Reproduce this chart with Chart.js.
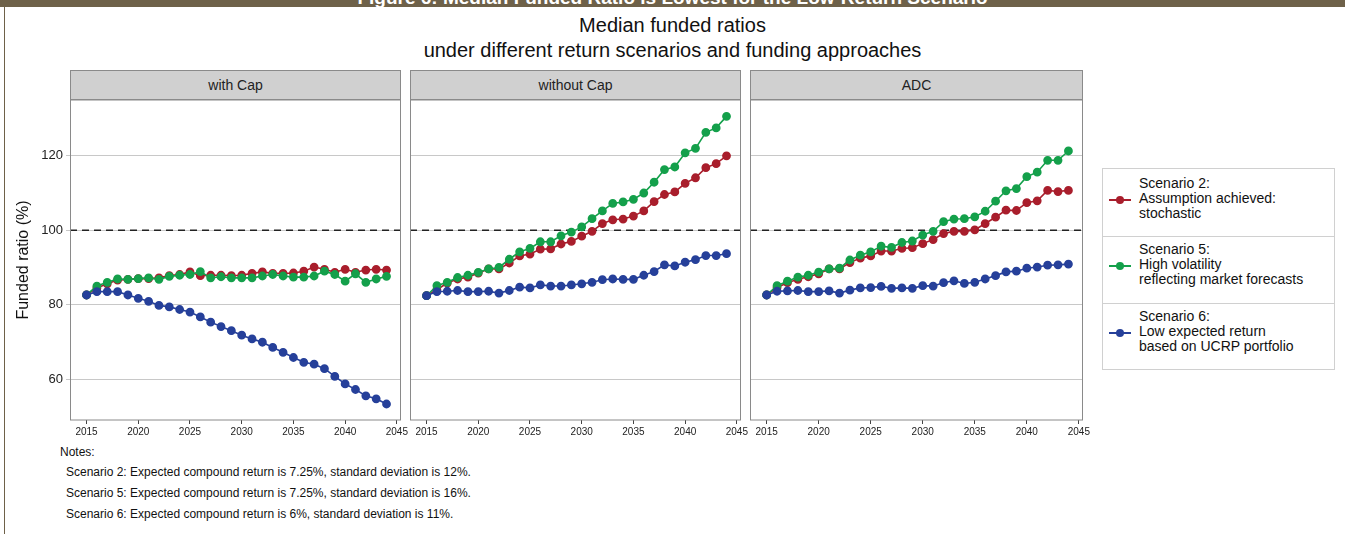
<!DOCTYPE html>
<html><head><meta charset="utf-8">
<script src="https://cdn.jsdelivr.net/npm/chart.js@4"></script>
<style>
body{margin:0;width:1345px;height:534px;overflow:hidden;background:#fff;font-family:"Liberation Sans",Arial,sans-serif;position:relative}
#banner{position:absolute;left:0;top:0;width:1345px;height:7px;background:#6e6149;overflow:hidden}
#banner span{position:absolute;left:0;width:1345px;top:-13px;text-align:center;color:#fff;font-weight:bold;font-size:19px}
#lb{position:absolute;left:4px;top:7px;width:1px;height:527px;background:#6e6149}
.t{position:absolute;width:1345px;left:0;text-align:center;font-size:20px;color:#111}
.strip{position:absolute;top:70px;height:30px;background:#d0d0d0;border:1px solid #8a8a8a;box-sizing:border-box;text-align:center;line-height:29px;font-size:14px;color:#222}
canvas{position:absolute}
#legend{position:absolute;left:1102px;top:168px;width:233px;height:202px;border:1px solid #d0d0d0;box-sizing:border-box}
.li{position:absolute;left:0;width:231px;font-size:14px;line-height:15px;color:#111}
.sym{position:absolute;left:6px;width:22px;height:2px}
.sym i{position:absolute;left:7px;top:-3px;width:8px;height:8px;border-radius:50%}
.li div.tx{position:absolute;left:36px}
.note{position:absolute;font-size:12px;color:#111}
</style></head><body>
<div id="banner"><span>Figure 6: Median Funded Ratio is Lowest for the Low-Return Scenario</span></div>
<div id="lb"></div>
<div class="t" style="top:14px">Median funded ratios</div>
<div class="t" style="top:39px">under different return scenarios and funding approaches</div>
<div class="strip" style="left:70px;width:331px">with Cap</div>
<div class="strip" style="left:410px;width:331px">without Cap</div>
<div class="strip" style="left:750px;width:333px">ADC</div>
<canvas id="c1" style="left:0;top:100px;width:413px;height:345px"></canvas>
<canvas id="c2" style="left:410px;top:100px;width:343px;height:345px"></canvas>
<canvas id="c3" style="left:750px;top:100px;width:345px;height:345px"></canvas>
<div id="legend"></div>
<div class="note" style="left:60px;top:445px">Notes:</div>
<div class="note" style="left:66px;top:465px">Scenario 2: Expected compound return is 7.25%, standard deviation is 12%.</div>
<div class="note" style="left:66px;top:486px">Scenario 5: Expected compound return is 7.25%, standard deviation is 16%.</div>
<div class="note" style="left:66px;top:507px">Scenario 6: Expected compound return is 6%, standard deviation is 11%.</div>
<script>
const years = Array.from({length:30},(_,i)=>2015+i);
const panels = ["with Cap","without Cap","ADC"];
const seriesNames = [["Scenario 2:","Assumption achieved:","stochastic"],["Scenario 5:","High volatility","reflecting market forecasts"],["Scenario 6:","Low expected return","based on UCRP portfolio"]];
const colors = ["#a91e2c","#14a04b","#26409a"];
const yTicks = [60,80,100,120];
const xTicks = [2015,2020,2025,2030,2035,2040,2045];

const capS2 = [82.6,84.5,85.6,86.6,86.8,87,87,87.2,87.8,88.1,88.8,87.8,87.9,87.9,87.8,87.9,88.4,88.8,88.4,88.4,88.5,89,90.1,89.5,88.7,89.5,88.7,89.3,89.5,89.3];
const capS5 = [82.6,85,86,86.9,86.8,87,87.2,86.8,87.6,87.9,88.1,88.9,87.2,87.5,87.2,87.2,87.2,87.7,88.1,87.7,87.4,87.4,87.7,89,88.1,86.3,88.3,86,86.9,87.6];
const capS6 = [82.6,83.5,83.5,83.5,82.6,81.7,80.9,79.8,79.4,78.7,78,76.7,75.3,74.1,73,71.8,70.8,69.9,68.5,67.2,65.8,64.5,64,62.8,60.7,58.7,57.2,55.5,54.7,53.3];
const noCapS2 = [82.4,84,85.8,86.9,87.4,88.5,89.6,89.6,91.2,93.1,93.6,94.9,95,96.3,97,98.4,99.7,101.8,102.8,103,103.8,105.2,107.7,109.6,110.3,112.6,114.1,116.8,117.9,120];
const noCapS5 = [82.4,85.1,86,87.3,87.9,88.7,89.6,90,92.2,94.2,95.1,96.9,96.9,98.5,99.5,100.9,103.1,105.2,107.2,107.6,108.3,110,112.9,116.3,117,120.8,122,126.3,127.5,130.6];
const noCapS6 = [82.4,83.5,83.6,83.8,83.5,83.5,83.6,83.1,83.8,84.7,84.5,85.3,85,85,85.3,85.6,86,86.7,86.9,86.8,86.8,87.9,88.9,90.7,90.4,91.4,92.1,93.2,93.2,93.7];
const adcS2 = [82.6,84.6,85.9,86.8,87.5,88.3,89.6,89.6,91.3,92.5,93.1,94.4,94.4,95.1,95.3,96.4,97.5,99.1,99.7,99.7,100.1,101.8,103.5,105.4,105.3,107.4,107.9,110.7,110.4,110.7];
const adcS5 = [82.6,85.1,86.3,87.4,87.9,88.75,89.6,89.8,92,93.3,94.2,95.7,95.4,96.7,97.1,98.7,99.7,102.3,103,103.1,103.6,105.1,107.8,110.6,111.2,114.4,115.6,118.8,118.8,121.3];
const adcS6 = [82.6,83.6,83.7,83.8,83.5,83.5,83.7,83.1,83.9,84.5,84.6,84.9,84.4,84.5,84.4,85.1,85,85.9,86.4,85.7,86,86.9,87.8,88.8,89,89.8,90.1,90.6,90.7,90.9];
const refLine = 100;

const panelData = [[capS2,capS5,capS6],[noCapS2,noCapS5,noCapS6],[adcS2,adcS5,adcS6]];

const framePlugin = {id:'frame', beforeDatasetsDraw(c){
  const a=c.chartArea, ctx=c.ctx, y=c.scales.y.getPixelForValue(refLine);
  ctx.save(); ctx.strokeStyle='#222'; ctx.lineWidth=1.5; ctx.setLineDash([7,5]);
  ctx.beginPath(); ctx.moveTo(a.left,y); ctx.lineTo(a.right,y); ctx.stroke(); ctx.restore();
}, afterDraw(c){
  const a=c.chartArea, ctx=c.ctx; ctx.save(); ctx.strokeStyle='#8a8a8a'; ctx.lineWidth=1;
  ctx.strokeRect(a.left+0.5,a.top,a.right-a.left-1,a.bottom-a.top); ctx.restore();
}};

panelData.forEach((sets,pi)=>{
  const first = pi===0;
  new Chart(document.getElementById('c'+(pi+1)),{
    type:'line',
    data:{datasets:sets.map((vals,si)=>({label:seriesNames[si].join(' '),data:years.map((yr,k)=>({x:yr,y:vals[k]})),
      borderColor:colors[si],backgroundColor:colors[si],borderWidth:1.6,pointRadius:3.6,pointHoverRadius:3.6,tension:0}))
      .reverse()},
    options:{responsive:false,animation:false,devicePixelRatio:1,
      layout:{autoPadding:false,padding:{left:0,right:12,top:0,bottom:0}},
      plugins:{legend:{display:false},tooltip:{enabled:false}},
      scales:{
        x:{type:'linear',min:2013.4,max:2045.4,
          afterBuildTicks:s=>{s.ticks=xTicks.map(v=>({value:v}));},
          afterFit:s=>{s.height=25;s.paddingLeft=0;s.paddingRight=0;},
          ticks:{font:{size:10,family:'Liberation Sans'},color:'#222',maxRotation:0,padding:2,callback:v=>String(v)},
          grid:{drawOnChartArea:false,drawTicks:true,tickLength:4,color:'#444'},border:{display:false}},
        y:{min:49,max:135,
          afterBuildTicks:s=>{s.ticks=yTicks.map(v=>({value:v}));},
          afterFit:s=>{s.width=first?70:0;s.paddingTop=0;s.paddingBottom=0;},
          title:{display:first,text:'Funded ratio (%)',font:{size:16,family:'Liberation Sans'},color:'#111',padding:{top:14,bottom:4}},
          ticks:{display:first,font:{size:13,family:'Liberation Sans'},color:'#222',padding:3},
          grid:{color:'#c8c8c8',lineWidth:1,drawTicks:first,tickLength:4},border:{display:false}}
      }},
    plugins:[framePlugin]
  });
});

const lg=document.getElementById('legend');
seriesNames.forEach((lines,i)=>{
  const top=[7,73,140][i];
  lg.insertAdjacentHTML('beforeend',`<div class="li" style="top:${top}px"><div class="sym" style="top:${23}px;background:${colors[i]}"><i style="background:${colors[i]}"></i></div><div class="tx">${lines.join('<br>')}</div></div>`);
  if(i<2) lg.insertAdjacentHTML('beforeend',`<div style="position:absolute;left:0;width:231px;top:${[67,134][i]}px;height:1px;background:#d0d0d0"></div>`);
});
</script>
</body></html>
